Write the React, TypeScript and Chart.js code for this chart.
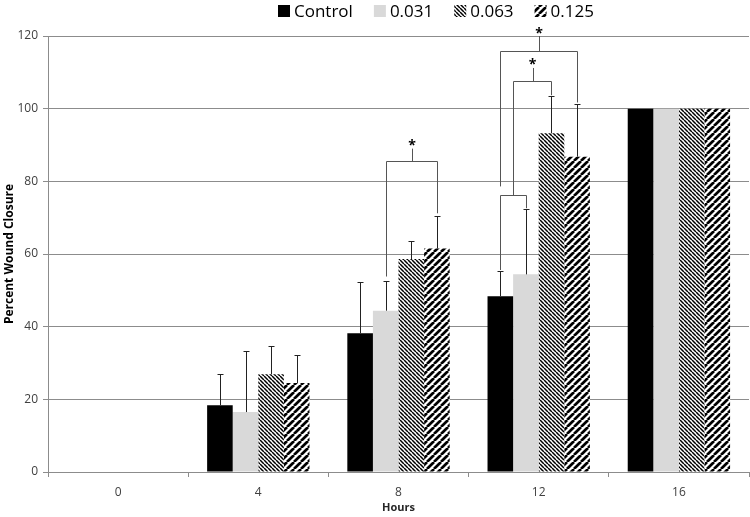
import React, { useEffect, useRef } from "react";
import { Chart, registerables } from "chart.js";

Chart.register(...registerables);

const categories = ["0", "4", "8", "12", "16"];
const seriesLabels = ["Control", "0.031", "0.063", "0.125"];
const controlValues = [0, 18.4, 38.2, 48.4, 100];
const c031Values = [0, 16.5, 44.4, 54.4, 100];
const c063Values = [0, 26.9, 58.6, 93.2, 100];
const c125Values = [0, 24.5, 61.5, 86.8, 100];
const controlErr = [0, 8.7, 14.0, 6.8, 0];
const c031Err = [0, 16.9, 8.3, 18.1, 0];
const c063Err = [0, 7.7, 4.9, 10.3, 0];
const c125Err = [0, 7.7, 9.0, 14.6, 0];
const yTicks = [0, 20, 40, 60, 80, 100, 120];

// significance brackets, in data units (category index, series indices)
const brackets = [
  { cat: 2, left: [1], right: [3], leftEnd: 53.8, rightEnd: 71.2, level: 85.5, stemTop: 89.0, star: 90.8 },
  { cat: 3, left: [0], right: [1], leftEnd: 55.6, rightEnd: 72.6, level: 76.2, stemTop: null, star: null },
  { cat: 3, left: [0, 1], right: [2], leftEnd: 76.2, rightEnd: 103.7, level: 107.6, stemTop: 111.2, star: 113.1 },
  { cat: 3, left: [0], right: [3], leftEnd: 78.6, rightEnd: 101.7, level: 116.0, stemTop: 120.0, star: 121.7 },
];

const allValues = [controlValues, c031Values, c063Values, c125Values];
const allErr = [controlErr, c031Err, c063Err, c125Err];

function makeStripes(period: number, width: number, down: boolean): CanvasPattern | string {
  const c = document.createElement("canvas");
  c.width = period;
  c.height = period;
  const ctx = c.getContext("2d");
  if (!ctx) return "#666";
  ctx.fillStyle = "#ffffff";
  ctx.fillRect(0, 0, period, period);
  ctx.strokeStyle = "#000000";
  ctx.lineWidth = width;
  ctx.beginPath();
  for (let k = -1; k <= 1; k++) {
    if (down) {
      ctx.moveTo(k * period, 0);
      ctx.lineTo(k * period + period, period);
    } else {
      ctx.moveTo(k * period, period);
      ctx.lineTo(k * period + period, 0);
    }
  }
  ctx.stroke();
  const pat = ctx.createPattern(c, "repeat");
  return pat || "#666";
}

const FONT = "'Open Sans', 'Noto Sans', sans-serif";

export default function App() {
  const ref = useRef<HTMLCanvasElement | null>(null);

  useEffect(() => {
    if (!ref.current) return;
    const fills: (string | CanvasPattern)[] = [
      "#000000",
      "#d9d9d9",
      makeStripes(4, 1.5, true),
      makeStripes(7, 2.7, false),
    ];

    const errorBars = {
      id: "errorBars",
      afterDatasetsDraw(chart: any) {
        const ctx = chart.ctx;
        const ys = chart.scales.y;
        ctx.save();
        ctx.strokeStyle = "#222222";
        ctx.lineWidth = 1;
        allValues.forEach((vals, i) => {
          const meta = chart.getDatasetMeta(i);
          vals.forEach((v, j) => {
            const e = allErr[i][j];
            if (!e) return;
            const el = meta.data[j];
            const x = Math.round(el.x) + 0.5;
            const y0 = ys.getPixelForValue(v);
            const y1 = Math.round(ys.getPixelForValue(v + e)) + 0.5;
            ctx.beginPath();
            ctx.moveTo(x, y0);
            ctx.lineTo(x, y1);
            ctx.moveTo(x - 3, y1);
            ctx.lineTo(x + 3, y1);
            ctx.stroke();
          });
        });
        // brackets
        ctx.strokeStyle = "#555555";
        const xOf = (cat: number, idx: number[]) => {
          let s = 0;
          idx.forEach((i) => (s += chart.getDatasetMeta(i).data[cat].x));
          return Math.round(s / idx.length) + 0.5;
        };
        brackets.forEach((b) => {
          const xl = xOf(b.cat, b.left);
          const xr = xOf(b.cat, b.right);
          const yl = ys.getPixelForValue(b.leftEnd);
          const yr = ys.getPixelForValue(b.rightEnd);
          const yb = Math.round(ys.getPixelForValue(b.level)) + 0.5;
          ctx.beginPath();
          ctx.moveTo(xl, yl);
          ctx.lineTo(xl, yb);
          ctx.lineTo(xr, yb);
          ctx.lineTo(xr, yr);
          if (b.stemTop !== null) {
            const xm = Math.round((xl + xr) / 2) + 0.5;
            ctx.moveTo(xm, yb);
            ctx.lineTo(xm, ys.getPixelForValue(b.stemTop));
          }
          ctx.stroke();
          if (b.star !== null) {
            ctx.fillStyle = "#000000";
            ctx.font = `bold 14px ${FONT}`;
            ctx.textAlign = "center";
            ctx.textBaseline = "alphabetic";
            ctx.fillText("*", (xl + xr) / 2, ys.getPixelForValue(b.star) + 8);
          }
        });
        ctx.restore();
      },
    };

    const legendPlugin = {
      id: "customLegend",
      afterDraw(chart: any) {
        const ctx = chart.ctx;
        ctx.save();
        ctx.font = `17px ${FONT}`;
        ctx.textBaseline = "middle";
        ctx.textAlign = "left";
        let x = 278;
        const cy = 11;
        chart.data.datasets.forEach((ds: any) => {
          ctx.fillStyle = ds.backgroundColor;
          ctx.fillRect(x, cy - 6, 12, 12);
          ctx.fillStyle = "#000000";
          ctx.fillText(ds.label, x + 16, cy + 1);
          x += 16 + ctx.measureText(ds.label).width + 21;
        });
        ctx.restore();
      },
    };

    const chart = new Chart(ref.current, {
      type: "bar",
      data: {
        labels: categories,
        datasets: allValues.map((vals, i) => ({
          label: seriesLabels[i],
          data: vals,
          backgroundColor: fills[i] as any,
          borderWidth: 0,
          categoryPercentage: 0.73,
          barPercentage: 1.0,
        })),
      },
      options: {
        responsive: false,
        animation: false,
        layout: { padding: { top: 36, right: 1, left: 0, bottom: 0 } },
        plugins: {
          legend: { display: false },
          tooltip: { enabled: false },
        },
        scales: {
          x: {
            grid: {
              display: true,
              drawOnChartArea: false,
              drawTicks: true,
              tickLength: 5,
              color: "#8c8c8c",
            },
            border: { display: true, color: "#8c8c8c" },
            ticks: {
              color: "#404040",
              font: { family: FONT, size: 12 },
              padding: 8,
            },
            title: {
              display: true,
              text: "Hours",
              color: "#262626",
              font: { family: FONT, size: 11, weight: "bold" },
              padding: { top: 0, bottom: 3 },
            },
            afterFit(scale: any) {
              scale.height = 45;
            },
          },
          y: {
            min: 0,
            max: 120,
            afterBuildTicks(scale: any) {
              scale.ticks = yTicks.map((v) => ({ value: v }));
            },
            grid: {
              color: "#8c8c8c",
              drawTicks: true,
              tickLength: 5,
            },
            border: { display: true, color: "#8c8c8c" },
            ticks: {
              color: "#404040",
              font: { family: FONT, size: 12 },
              padding: 5,
            },
            title: {
              display: true,
              text: "Percent Wound Closure",
              color: "#000000",
              font: { family: FONT, size: 12, weight: "bold" },
              padding: { top: 2, bottom: 0 },
            },
            afterFit(scale: any) {
              scale.width = 48;
            },
          },
        },
      },
      plugins: [errorBars, legendPlugin],
    });
    return () => chart.destroy();
  }, []);

  return (
    <div style={{ position: "absolute", left: 0, top: 0, width: 750, height: 517, background: "#ffffff" }}>
      <canvas ref={ref} width={750} height={517} style={{ display: "block" }} />
    </div>
  );
}
